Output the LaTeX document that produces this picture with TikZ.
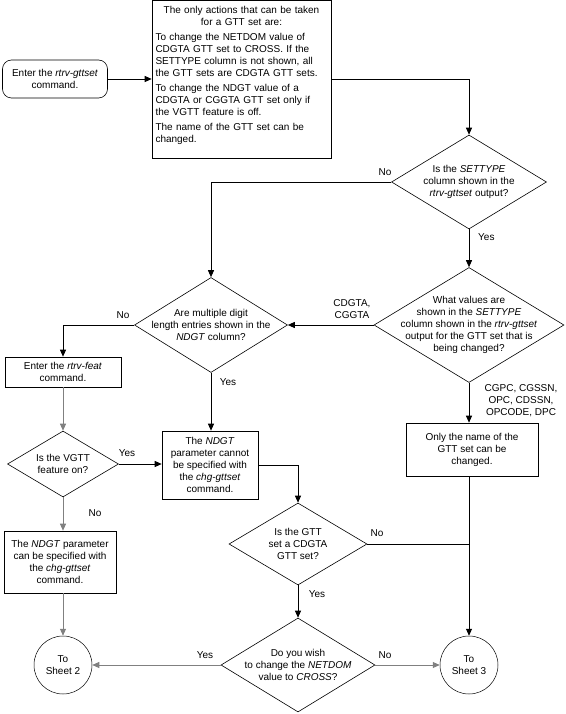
\documentclass[tikz,border=0pt]{standalone}
\usepackage{fontspec}
\setmainfont{Liberation Sans}
\usetikzlibrary{arrows.meta,shapes.geometric}
\definecolor{linegray}{RGB}{128,128,128}
\begin{document}
\begin{tikzpicture}[x=1pt,y=-1pt,
  every node/.style={font=\fontsize{10}{12}\selectfont},
  txt/.style={align=center,inner sep=0pt},
  boxn/.style={draw,line width=0.6pt,inner sep=0pt,align=center},
  dia/.style={draw,diamond,line width=0.6pt,inner sep=0pt},
  circ/.style={draw,circle,line width=0.5pt,inner sep=0pt,minimum size=58pt,align=center},
  conn/.style={line width=0.9pt,-{Triangle[length=7pt,width=6pt]}},
  plainc/.style={line width=0.9pt},
  grayc/.style={draw=linegray},
  lbl/.style={inner sep=0pt}]
\useasboundingbox (0,0) rectangle (565,714);

% start
\node[boxn,rounded corners=9pt,minimum width=105pt,minimum height=38pt] (start) at (55,79) {Enter the \textit{rtrv-gttset}\\command.};

% actions box
\node[boxn,minimum width=179pt,minimum height=157.5pt] (act) at (241.5,79.25) {};
\node[txt,anchor=north,text width=172pt,align=left] (acttext) at (241.5,5.1) {{\centering\strut The only actions that can be taken\\for a GTT set are:\par}\vspace{3pt}
To change the NETDOM value of\\CDGTA GTT set to CROSS. If the\\SETTYPE column is not shown, all\\the GTT sets are CDGTA GTT sets.\par\vspace{3pt}
To change the NDGT value of a\\CDGTA or CGGTA GTT set only if\\the VGTT feature is off.\par\vspace{3pt}
The name of the GTT set can be\\changed.};

% diamonds
\node[dia,minimum width=155pt,minimum height=94pt] (d1) at (469,182) {};
\node[txt] at (d1) {Is the \textit{SETTYPE}\\column shown in the\\\textit{rtrv-gttset} output?};

\node[dia,minimum width=190pt,minimum height=115pt] (d2) at (469,325) {};
\node[txt] at (d2) {What values are\\shown in the \textit{SETTYPE}\\column shown in the \textit{rtrv-gttset}\\output for the GTT set that is\\being changed?};

\node[dia,minimum width=153pt,minimum height=95pt] (d3) at (211,325) {};
\node[txt] at (d3) {Are multiple digit\\length entries shown in the\\\textit{NDGT} column?};

\node[dia,minimum width=111pt,minimum height=66pt] (vgtt) at (63,464) {};
\node[txt] at (vgtt) {Is the VGTT\\feature on?};

\node[dia,minimum width=138pt,minimum height=82pt] (cdgta) at (298,544) {};
\node[txt] at (cdgta) {Is the GTT\\set a CDGTA\\GTT set?};

\node[dia,minimum width=154pt,minimum height=94pt] (netdom) at (298,665) {};
\node[txt] at (netdom) {Do you wish\\to change the \textit{NETDOM}\\value to \textit{CROSS}?};

% boxes
\node[boxn,minimum width=116pt,minimum height=30pt] (rtrv) at (63,372) {Enter the \textit{rtrv-feat}\\command.};
\node[boxn,minimum width=96pt,minimum height=68pt] (cannot) at (210,465) {The \textit{NDGT}\\parameter cannot\\be specified with\\the \textit{chg-gttset}\\command.};
\node[boxn,minimum width=132pt,minimum height=53pt] (only) at (472,449.5) {Only the name of the\\GTT set can be\\changed.};
\node[boxn,minimum width=112pt,minimum height=62pt] (can) at (60,562) {The \textit{NDGT} parameter\\can be specified with\\the \textit{chg-gttset}\\command.};

% circles
\node[circ] (s2) at (63,665) {To\\Sheet 2};
\node[circ] (s3) at (469,665) {To\\Sheet 3};

% connectors
\draw[conn] (start.east) -- (act.west |- start.east);
\draw[conn] (act.east |- start.east) -| (d1.north);
\draw[conn] (d1.south) -- (d2.north);
\draw[conn] (d1.west) -| (d3.north);
\draw[conn] (d2.west) -- (d3.east);
\draw[conn] (d2.south) -- (d2.south |- only.north);
\draw[conn] (d3.west) -| (rtrv.north);
\draw[conn] (d3.south) -- (d3.south |- cannot.north);
\draw[conn,grayc] (rtrv.south) -- (vgtt.north);
\draw[conn] (vgtt.east) -- (vgtt.east -| cannot.west);
\draw[conn,grayc] (vgtt.south) -- (vgtt.south |- can.north);
\draw[conn,grayc] (s2.north |- can.south) -- (s2.north);
\draw[conn] (cannot.east) -| (cdgta.north);
\draw[plainc] (cdgta.east) -- (cdgta.east -| s3.north);
\draw[conn] (s3.north |- only.south) -- (s3.north);
\draw[conn] (cdgta.south) -- (netdom.north);
\draw[conn,grayc] (netdom.west) -- (s2.east);
\draw[conn,grayc] (netdom.east) -- (s3.west);

% labels
\node[lbl] (l1) at (385,172) {No};
\node[lbl,anchor=west] (l2) at (478,237) {Yes};
\node[lbl,align=center] (l3) at (352,309) {CDGTA,\\CGGTA};
\node[lbl,align=center] (l4) at (521,401) {CGPC, CGSSN,\\OPC, CDSSN,\\OPCODE, DPC};
\node[lbl] (l5) at (123,315) {No};
\node[lbl] (l6) at (228,382) {Yes};
\node[lbl] (l7) at (127,453) {Yes};
\node[lbl] (l8) at (95,513) {No};
\node[lbl] (l9) at (377,533) {No};
\node[lbl] (l10) at (317,594) {Yes};
\node[lbl] (l11) at (205,655) {Yes};
\node[lbl] (l12) at (385,655) {No};
\end{tikzpicture}
\end{document}
